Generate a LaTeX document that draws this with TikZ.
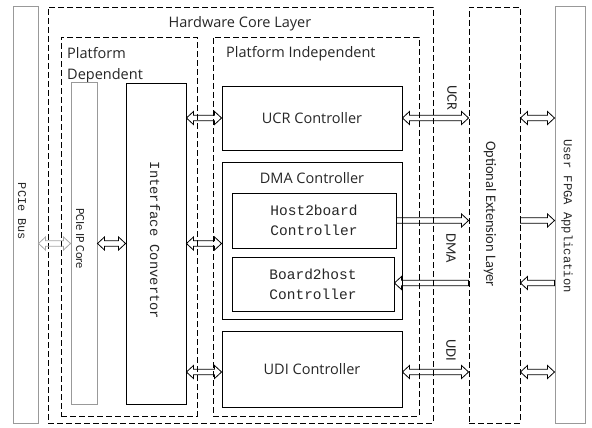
\documentclass[tikz,border=0pt]{standalone}
\usepackage{fontspec}
\setmainfont{Open Sans}
\newfontfamily\narrowfont{Carlito}
\setmonofont{Liberation Mono}
\usepackage{tikz}
\usetikzlibrary{calc,positioning}
\tikzstyle{block}=[draw=black,line width=0.9pt,inner sep=0pt,text=black!85]
\tikzstyle{greyblock}=[draw=black!40,line width=1pt,inner sep=0pt]
\tikzstyle{layer}=[draw=black,line width=0.9pt,dash pattern=on 6pt off 3pt,inner sep=0pt]
\tikzstyle{title}=[font=\fontsize{14.5}{21}\selectfont,inner sep=0pt,text=black!85]
\tikzstyle{code}=[font=\ttfamily\fontsize{14.5}{20}\selectfont,align=center]
\tikzstyle{sideways}=[rotate=-90,inner sep=0pt,text=black!85]
\tikzstyle{narrow}=[sideways,font=\narrowfont\fontsize{14.5}{16}\selectfont]
% hollow arrows, heads on both ends / on the target end only
\tikzstyle{bus}=[draw=black,line width=0.8pt,line join=miter,to path={
  let \p1=(\tikztostart), \p2=(\tikztotarget), \n1={sign(\x2-\x1)} in
  (\x1,\y1) -- ({\x1+(\n1)*7pt},{\y1+6.5pt}) -- ({\x1+(\n1)*7pt},{\y1+2.8pt})
  -- ({\x2-(\n1)*7pt},{\y1+2.8pt}) -- ({\x2-(\n1)*7pt},{\y1+6.5pt}) -- (\x2,\y1)
  -- ({\x2-(\n1)*7pt},{\y1-6.5pt}) -- ({\x2-(\n1)*7pt},{\y1-2.8pt})
  -- ({\x1+(\n1)*7pt},{\y1-2.8pt}) -- ({\x1+(\n1)*7pt},{\y1-6.5pt}) -- cycle}]
\tikzstyle{oneway}=[draw=black,line width=0.8pt,line join=miter,to path={
  let \p1=(\tikztostart), \p2=(\tikztotarget), \n1={sign(\x2-\x1)} in
  (\x1,{\y1+2.8pt}) -- ({\x2-(\n1)*7pt},{\y1+2.8pt}) -- ({\x2-(\n1)*7pt},{\y1+6.5pt}) -- (\x2,\y1)
  -- ({\x2-(\n1)*7pt},{\y1-6.5pt}) -- ({\x2-(\n1)*7pt},{\y1-2.8pt}) -- (\x1,{\y1-2.8pt}) -- cycle}]

\begin{document}
\begin{tikzpicture}[x=1pt,y=-1pt]
  \useasboundingbox (0,0) rectangle (592,428);
  % layers
  \node[layer,minimum width=385pt,minimum height=416pt] (core)  at (240.5,215)   {};
  \node[layer,minimum width=136pt,minimum height=379pt] (dep)   at (129,226.5)   {};
  \node[layer,minimum width=206pt,minimum height=379pt] (indep) at (316,226.5)   {};
  \node[layer,minimum width=51pt,minimum height=416pt]  (opt)   at (494.5,215)   {};
  \node[title,anchor=base]       (corelbl)  at (240,27.5) {Hardware Core Layer};
  \node[title,anchor=north west,align=left] (deplbl) at (67,47) {Platform\\Dependent};
  \node[title,anchor=base west]  (indeplbl) at (226,58) {Platform Independent};
  % buses
  \node[greyblock,minimum width=25pt,minimum height=416pt] (pcie) at (25.5,215) {};
  \node[greyblock,minimum width=30pt,minimum height=416pt] (user) at (570,215) {};
  \node[sideways,font=\ttfamily\fontsize{11.9}{14}\selectfont] (pcielbl) at (22,211.5) {PCIe Bus};
  \node[sideways,font=\ttfamily\fontsize{12.2}{14}\selectfont] (userlbl) at (567,216) {User FPGA Application};
  \node[narrow] (optlbl) at (490,214) {Optional Extension Layer};
  % platform dependent
  \node[greyblock,minimum width=26pt,minimum height=321pt] (ip)    at (84,243.5)  {};
  \node[block,minimum width=60pt,minimum height=321pt]     (iface) at (156,243.5) {};
  \node[sideways,font=\narrowfont\fontsize{12.4}{14}\selectfont] (iplbl) at (80,238.5) {PCIe IP Core};
  \node[sideways,font=\ttfamily\fontsize{13.8}{16}\selectfont] (ifacelbl) at (155,240.5) {Interface Convertor};
  % platform independent
  \node[block,title,minimum width=180pt,minimum height=64pt] (ucr) at (312,118) {UCR Controller};
  \node[block,minimum width=180pt,minimum height=157pt]      (dma) at (312,240.5) {};
  \node[title,anchor=base] (dmalbl) at (312,183) {DMA Controller};
  \node[block,code,minimum width=164pt,minimum height=55pt] (h2b) at (314,220.5) {Host2board\\Controller};
  \node[block,code,minimum width=162pt,minimum height=54pt] (b2h) at (313,284)   {Board2host\\Controller};
  \node[block,title,minimum width=180pt,minimum height=76pt] (udi) at (312,369) {UDI Controller};
  % connectors
  \draw[bus,draw=black!35] (pcie.east |- ip) to (ip.west);
  \draw[bus] (ip.east) to (iface.west |- ip);
  \draw[bus] (iface.east |- ucr) to (ucr.west);
  \draw[bus] (iface.east) to (iface.east -| dma.west);
  \draw[bus] ([yshift=-3pt]iface.east |- udi) to ([yshift=-3pt]udi.west);
  \draw[bus] (ucr.east) to (opt.west |- ucr);
  \draw[oneway] (h2b.east) to (h2b.east -| opt.west);
  \draw[oneway] ([yshift=1pt]opt.west |- b2h) to ([yshift=1pt]b2h.east);
  \draw[bus] ([yshift=-3pt]udi.east) to ([yshift=-3pt]opt.west |- udi);
  \node[narrow] (ucrlbl) at (452,98)  {UCR};
  \node[narrow] (dmasig) at (451,248) {DMA};
  \node[narrow] (udilbl) at (451,350) {UDI};
  \draw[bus] (opt.east |- ucr) to (user.west |- ucr);
  \draw[oneway] (opt.east |- h2b) to (user.west |- h2b);
  \draw[oneway] ([yshift=1pt]user.west |- b2h) to ([yshift=1pt]opt.east |- b2h);
  \draw[bus] ([yshift=-3pt]opt.east |- udi) to ([yshift=-3pt]user.west |- udi);
\end{tikzpicture}
\end{document}
